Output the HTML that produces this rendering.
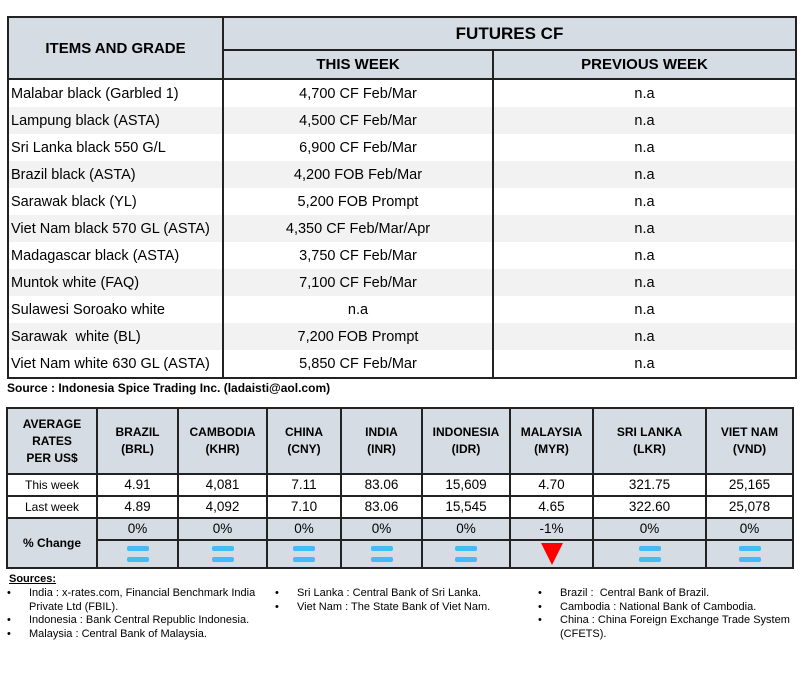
<!DOCTYPE html>
<html><head><meta charset="utf-8"><style>
body{margin:0;width:800px;height:675px;background:#fff;font-family:"Liberation Sans",sans-serif;position:relative;overflow:hidden;color:#000}
table{border-collapse:collapse;position:absolute;table-layout:fixed}
td{padding:0;overflow:hidden;white-space:nowrap}
#t1{left:7px;top:16px;width:788px}
#t1 td{border-left:2px solid #222;border-right:2px solid #222;font-size:14.5px;height:27px}
#t1 .h{background:#d6dce4;font-weight:bold;text-align:center;border:2px solid #222}
#t1 tr.g td{background:#f2f2f2}
#t1 .c{text-align:center}
#t1 .l{padding-left:2px}
#t2{left:6px;top:407px;width:786px}
#t2 td{border:2px solid #222;text-align:center;font-size:13.5px;line-height:16px}
#t2 .h{background:#d6dce4;font-weight:bold;font-size:12px;line-height:17px}
#t2 .b{background:#d6dce4}
.eq{width:22px;height:5px;background:#44bbf5;border-radius:2px;margin:0 auto}
.eq+.eq{margin-top:6px}
.tri{width:0;height:0;border-left:11px solid transparent;border-right:11px solid transparent;border-top:22px solid #ff0000;margin:0 auto}
.src{position:absolute;font-size:11px;line-height:13.5px}
.src div{position:relative;padding-left:22px}
.src div span{position:absolute;left:0}
</style></head><body>
<table id="t1">
<colgroup><col style="width:215px"><col style="width:270px"><col style="width:303px"></colgroup>
<tr><td class="h" rowspan="2" style="font-size:15px;height:60px">ITEMS AND GRADE</td><td class="h" colspan="2" style="font-size:17px;height:31px">FUTURES CF</td></tr>
<tr><td class="h" style="height:27px;font-size:15px">THIS WEEK</td><td class="h" style="font-size:15px">PREVIOUS WEEK</td></tr>
<tr><td class="l">Malabar black (Garbled 1)</td><td class="c">4,700 CF Feb/Mar</td><td class="c">n.a</td></tr>
<tr class="g"><td class="l">Lampung black (ASTA)</td><td class="c">4,500 CF Feb/Mar</td><td class="c">n.a</td></tr>
<tr><td class="l">Sri Lanka black 550 G/L</td><td class="c">6,900 CF Feb/Mar</td><td class="c">n.a</td></tr>
<tr class="g"><td class="l">Brazil black (ASTA)</td><td class="c">4,200 FOB Feb/Mar</td><td class="c">n.a</td></tr>
<tr><td class="l">Sarawak black (YL)</td><td class="c">5,200 FOB Prompt</td><td class="c">n.a</td></tr>
<tr class="g"><td class="l">Viet Nam black 570 GL (ASTA)</td><td class="c">4,350 CF Feb/Mar/Apr</td><td class="c">n.a</td></tr>
<tr><td class="l">Madagascar black (ASTA)</td><td class="c">3,750 CF Feb/Mar</td><td class="c">n.a</td></tr>
<tr class="g"><td class="l">Muntok white (FAQ)</td><td class="c">7,100 CF Feb/Mar</td><td class="c">n.a</td></tr>
<tr><td class="l">Sulawesi Soroako white</td><td class="c">n.a</td><td class="c">n.a</td></tr>
<tr class="g"><td class="l">Sarawak &nbsp;white (BL)</td><td class="c">7,200 FOB Prompt</td><td class="c">n.a</td></tr>
<tr><td class="l" style="border-bottom:2px solid #222">Viet Nam white 630 GL (ASTA)</td><td class="c" style="border-bottom:2px solid #222">5,850 CF Feb/Mar</td><td class="c" style="border-bottom:2px solid #222">n.a</td></tr>
</table>
<div style="position:absolute;left:7px;top:381px;font-size:12px;font-weight:bold">Source : Indonesia Spice Trading Inc. (ladaisti@aol.com)</div>
<table id="t2">
<colgroup><col style="width:90px"><col style="width:81px"><col style="width:89px"><col style="width:74px"><col style="width:81px"><col style="width:88px"><col style="width:83px"><col style="width:113px"><col style="width:87px"></colgroup>
<tr style="height:66px"><td class="h">AVERAGE<br>RATES<br>PER US$</td><td class="h">BRAZIL<br>(BRL)</td><td class="h">CAMBODIA<br>(KHR)</td><td class="h">CHINA<br>(CNY)</td><td class="h">INDIA<br>(INR)</td><td class="h">INDONESIA<br>(IDR)</td><td class="h">MALAYSIA<br>(MYR)</td><td class="h">SRI LANKA<br>(LKR)</td><td class="h">VIET NAM<br>(VND)</td></tr>
<tr style="height:22px"><td style="font-size:12px">This week</td><td>4.91</td><td>4,081</td><td>7.11</td><td>83.06</td><td>15,609</td><td>4.70</td><td>321.75</td><td>25,165</td></tr>
<tr style="height:22px"><td style="font-size:12px">Last week</td><td>4.89</td><td>4,092</td><td>7.10</td><td>83.06</td><td>15,545</td><td>4.65</td><td>322.60</td><td>25,078</td></tr>
<tr style="height:22px"><td class="b" rowspan="2" style="font-weight:bold;font-size:12px">% Change</td><td class="b">0%</td><td class="b">0%</td><td class="b">0%</td><td class="b">0%</td><td class="b">0%</td><td class="b">-1%</td><td class="b">0%</td><td class="b">0%</td></tr>
<tr style="height:28px"><td class="b"><div class="eq"></div><div class="eq"></div></td><td class="b"><div class="eq"></div><div class="eq"></div></td><td class="b"><div class="eq"></div><div class="eq"></div></td><td class="b"><div class="eq"></div><div class="eq"></div></td><td class="b"><div class="eq"></div><div class="eq"></div></td><td class="b"><div class="tri"></div></td><td class="b"><div class="eq"></div><div class="eq"></div></td><td class="b"><div class="eq"></div><div class="eq"></div></td></tr>
</table>
<div class="src" style="left:9px;top:573px"><u style="font-weight:bold;font-size:11px">Sources:</u></div>
<div class="src" style="left:7px;top:587px;width:265px">
<div><span>•</span>India : x-rates.com, Financial Benchmark India Private Ltd (FBIL).</div>
<div><span>•</span>Indonesia : Bank Central Republic Indonesia.</div>
<div><span>•</span>Malaysia : Central Bank of Malaysia.</div></div>
<div class="src" style="left:275px;top:587px;width:260px">
<div><span>•</span>Sri Lanka : Central Bank of Sri Lanka.</div>
<div><span>•</span>Viet Nam : The State Bank of Viet Nam.</div></div>
<div class="src" style="left:538px;top:587px;width:260px">
<div><span>•</span>Brazil : &nbsp;Central Bank of Brazil.</div>
<div><span>•</span>Cambodia : National Bank of Cambodia.</div>
<div><span>•</span>China : China Foreign Exchange Trade System (CFETS).</div></div>
</body></html>
